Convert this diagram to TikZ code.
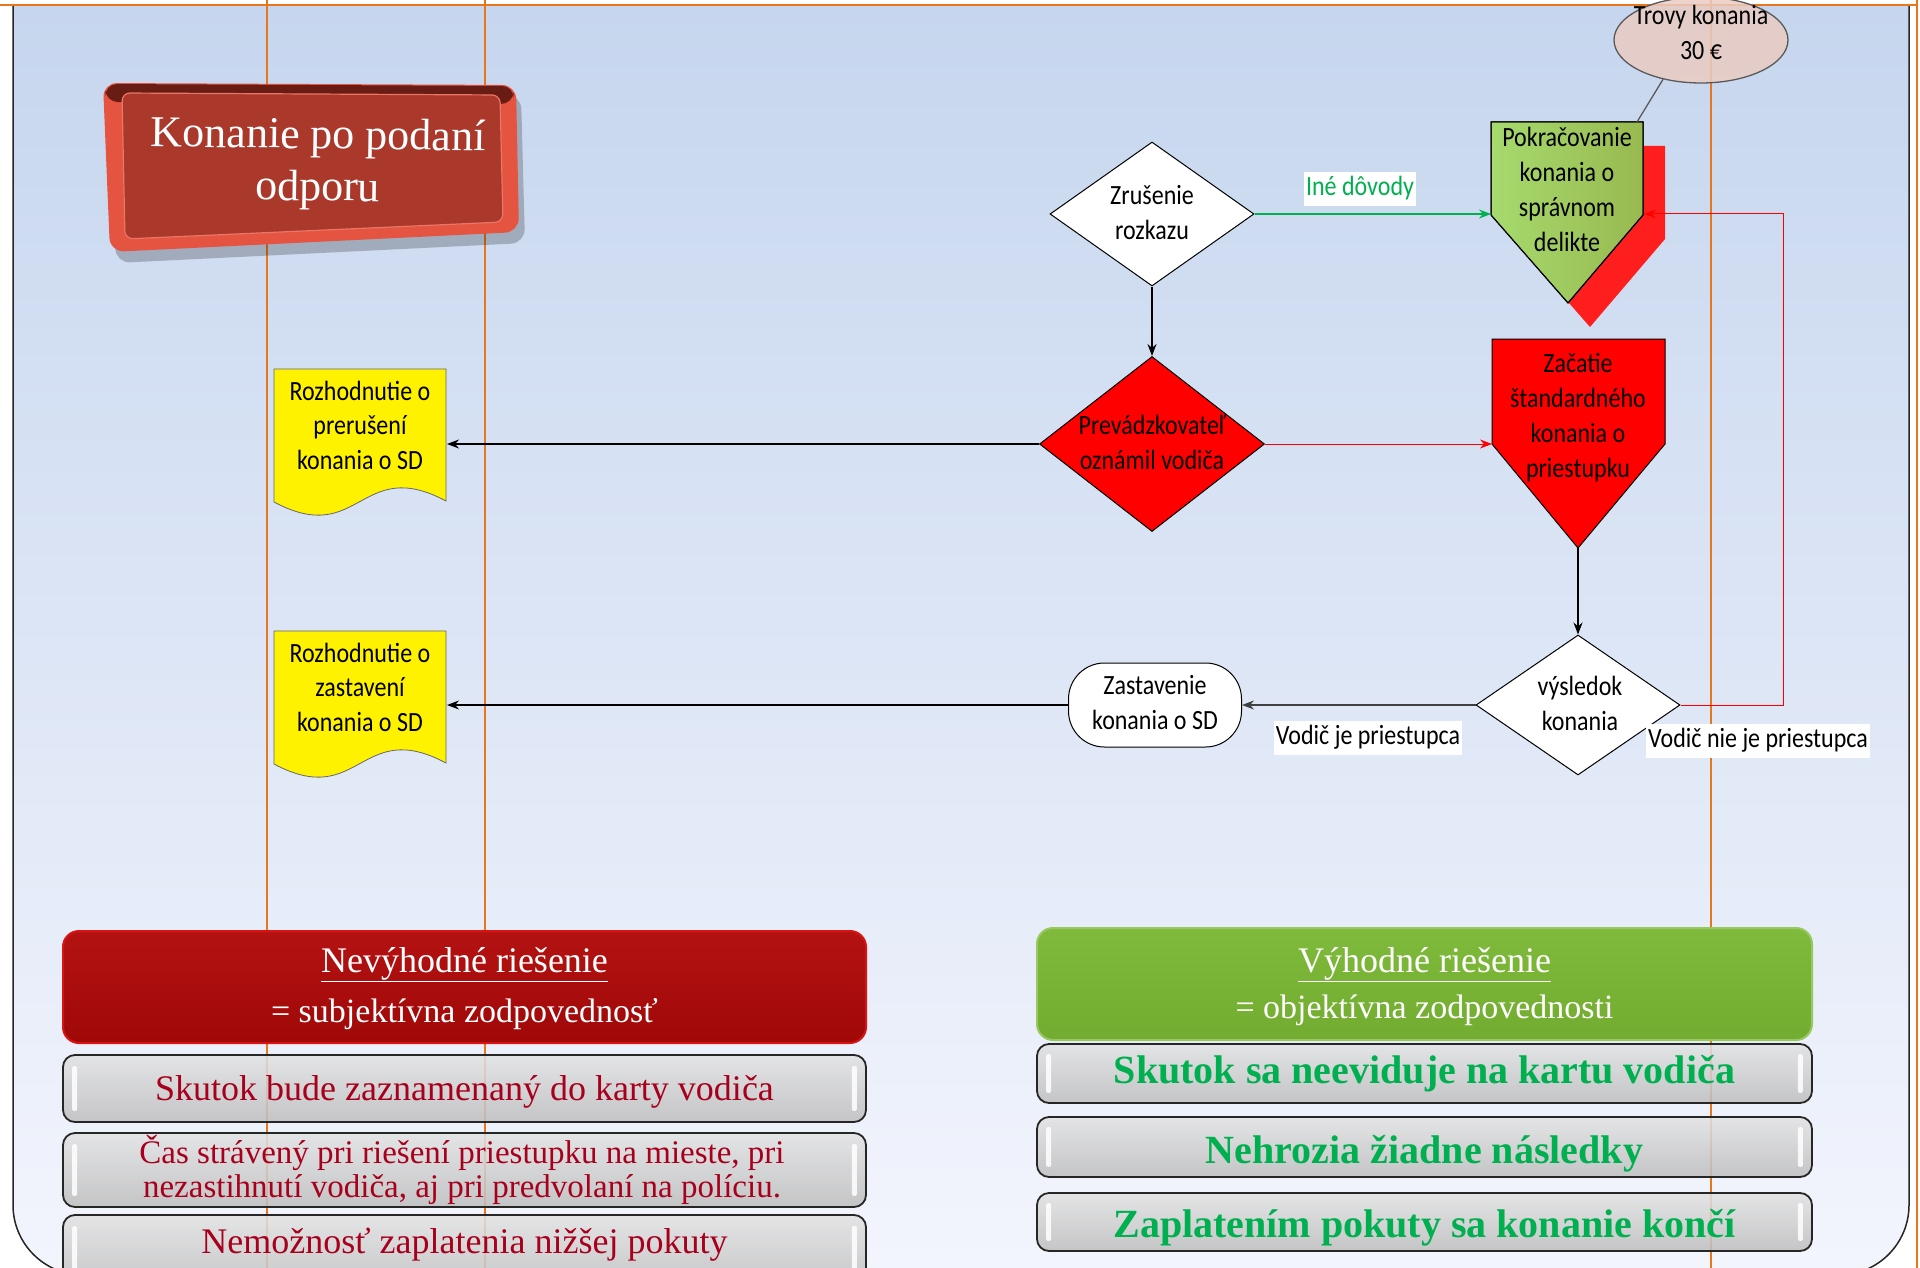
\documentclass[tikz,border=0pt]{standalone}
\usepackage{fontspec}
\usepackage{graphicx}
\setmainfont{Liberation Serif}
\newfontfamily\calib{Carlito}
\usetikzlibrary{shapes.geometric,arrows.meta,calc}
\definecolor{bgtop}{RGB}{198,214,238}
\definecolor{bgbot}{RGB}{243,245,253}
\definecolor{orng}{RGB}{232,118,28}
\definecolor{ttface}{RGB}{170,56,43}
\definecolor{ttrim}{RGB}{228,84,64}
\definecolor{ttdark}{RGB}{104,28,20}
\definecolor{nevface}{RGB}{160,8,8}
\definecolor{nevtop}{RGB}{180,18,18}
\definecolor{nevrim}{RGB}{215,20,20}
\definecolor{vyface}{RGB}{114,172,48}
\definecolor{vytop}{RGB}{128,186,60}
\definecolor{txtred}{RGB}{168,0,28}
\definecolor{txtgreen}{RGB}{0,176,80}
\definecolor{gtop}{RGB}{226,226,226}
\definecolor{gbot}{RGB}{190,190,190}
\definecolor{pinkel}{RGB}{234,204,194}
\definecolor{pokleft}{RGB}{166,218,110}
\definecolor{pokright}{RGB}{152,185,80}
\definecolor{shadred}{RGB}{255,30,30}
\newcommand\vtx[1]{\scalebox{1}[1.16]{\begin{tabular}{@{}c@{}}#1\end{tabular}}}
\begin{document}
\begin{tikzpicture}[x=1pt,y=-1pt,
  flow/.style={font=\calib\fontsize{24}{30}\selectfont, inner sep=0pt},
  conn/.style={line width=1.3pt, -{Stealth[length=12pt,width=9pt]}},
  lbl/.style={font=\calib\fontsize{24}{30}\selectfont, fill=white, inner xsep=2pt, inner ysep=0pt},
  dec/.style={diamond, draw=black, line width=1pt, inner sep=0pt},
  gbox/.style={draw=black!85, line width=1.8pt, rounded corners=12pt, top color=gtop, bottom color=gbot, fill opacity=.86, draw opacity=1, minimum width=803pt, inner sep=0pt},
  hbox/.style={gbox, minimum width=775pt},
  gloss/.style={fill=white, opacity=.85, rounded corners=2pt},
  serif/.style={font=\fontsize{36}{40}\selectfont, anchor=base, inner sep=0pt},
  boldg/.style={font=\bfseries\fontsize{40}{44}\selectfont, anchor=base, inner sep=0pt, text=txtgreen},
]
\useasboundingbox (0,0) rectangle (1920,1268);
\fill[white] (0,0) rectangle (1920,1268);
% background and frame
\begin{scope}
  \clip (0,5) rectangle (1920,1268);
  \begin{scope}
    \clip[rounded corners=70pt] (13,-200) rectangle (1909,1275);
    \shade[top color=bgtop, bottom color=bgbot] (0,5) rectangle (1920,1268);
  \end{scope}
  \draw[black!85, line width=1.5pt, rounded corners=70pt] (13,-200) rectangle (1909,1275);
\end{scope}
% orange guide lines
\draw[orng, line width=2pt] (0,5) -- (1917,5) (267,0) -- (267,1268) (485,0) -- (485,1268)
  (1711,0) -- (1711,1268) (1917,0) -- (1917,1268);

% title box
\fill[black, opacity=.22, rounded corners=14pt] (108,93) -- (521,95) -- (525,243) -- (116,263) -- cycle;
\fill[ttrim, rounded corners=14pt] (103,83) -- (516,85) -- (519,232) -- (110,252) -- cycle;
\fill[ttdark, rounded corners=12pt] (105,84) -- (514,86) -- (513,104) -- (106,102) -- cycle;
\fill[ttface, rounded corners=8pt] (122,93) -- (500,95) -- (503,222) -- (125,239) -- cycle;
\draw[ttrim!80!white, line width=1.2pt, rounded corners=8pt] (122,93) -- (500,95) -- (503,222) -- (125,239) -- cycle;
\node[font=\fontsize{44}{52}\selectfont, text=white, align=center, inner sep=0pt, rotate=-0.8] (title) at (318,164) {Konanie po podaní\\odporu};

% flowchart shapes
\node[ellipse, draw=black!65, line width=1.3pt, fill=pinkel, fill opacity=.85, draw opacity=1, minimum width=174pt, minimum height=86pt, inner sep=0pt] (trovy) at (1701,40) {};
\node[flow] (trovyt) at (1701,35.4) {\vtx{Trovy konania\\30 €}};

\fill[shadred] (1513,146) -- (1665,146) -- (1665,239) -- (1590,327) -- (1513,239) -- cycle;
\shade[left color=pokleft, right color=pokright, draw=black, line width=1pt] (1491,122) -- (1643,122) -- (1643,215) -- (1568,303) -- (1491,215) -- cycle;
\draw[black, line width=1pt] (1491,122) -- (1643,122) -- (1643,215) -- (1568,303) -- (1491,215) -- cycle;
\node[flow] (pok) at (1567,192) {\vtx{Pokračovanie\\konania o\\správnom\\delikte}};
\coordinate (pokL) at (1491,214);
\coordinate (pokR) at (1644,214);
\coordinate (pokT) at (1637,122);

\node[dec, fill=white, minimum width=204pt, minimum height=144pt] (zrus) at (1152,214) {};
\node[flow] (zrust) at (1152,215.4) {\vtx{Zrušenie\\rozkazu}};

\node[dec, fill=red, minimum width=225pt, minimum height=175pt] (prev) at (1152,444) {};
\node[flow] (prevt) at (1152,445.4) {\vtx{Prevádzkovateľ\\oznámil vodiča}};

\draw[fill=red, draw=black, line width=1pt] (1492,339) -- (1665,339) -- (1665,444) -- (1578,548) -- (1492,444) -- cycle;
\node[flow] (zac) at (1578,418) {\vtx{Začatie\\štandardného\\konania o\\priestupku}};
\coordinate (zacL) at (1492,444);
\coordinate (zacB) at (1578,548);

\node[dec, fill=white, minimum width=204pt, minimum height=140pt] (vys) at (1578,705) {};
\node[flow] (vyst) at (1580,706) {\vtx{výsledok\\konania}};

\node[draw, fill=white, line width=1pt, rounded corners=36pt, minimum width=173pt, minimum height=84pt, flow] (zast) at (1155,705) {\vtx{Zastavenie\\konania o SD}};

\draw[fill=yellow, draw=black!60, line width=0.8pt] (274,369) -- (446,369) -- (446,501) .. controls (360,455) and (360,548) .. (274,502) -- cycle;
\node[flow] (doc1) at (360,428) {\vtx{Rozhodnutie o\\prerušení\\konania o SD}};
\coordinate (doc1R) at (447,444);
\draw[fill=yellow, draw=black!60, line width=0.8pt] (274,631) -- (446,631) -- (446,763) .. controls (360,717) and (360,810) .. (274,764) -- cycle;
\node[flow] (doc2) at (360,690) {\vtx{Rozhodnutie o\\zastavení\\konania o SD}};
\coordinate (doc2R) at (447,705);

% connectors
\draw[conn, txtgreen] (zrus.east) -- (pokL);
\draw[conn] (zrus.south) -- (prev.north);
\draw[conn] (prev.west) -- (doc1R);
\draw[conn, red, line width=1pt] (prev.east) -- (zacL);
\draw[conn] (zacB) -- (vys.north);
\draw[conn, black!75] (vys.west) -- (zast.east);
\draw[conn] (zast.west) -- (doc2R);
\draw[conn, red, line width=1pt] (vys.east) -- ++(103,0) |- (pokR);
\draw[black!65, line width=1.3pt] (trovy.226) -- (pokT);

% labels
\node[lbl, text=txtgreen] (ine) at (1360,189) {\vtx{Iné dôvody}};
\node[lbl] (vjp) at (1368,738) {\vtx{Vodič je priestupca}};
\node[lbl] (vnjp) at (1758,741) {\vtx{Vodič nie je priestupca}};

% bottom left
\node[draw=nevrim, line width=2pt, rounded corners=16pt, top color=nevtop, bottom color=nevface, minimum width=803pt, minimum height=112pt, inner sep=0pt] (nev) at (464.5,987) {};
\node[serif, text=white] (nevt1) at (464.5,972) {\underline{Nevýhodné riešenie}};
\node[serif, text=white, font=\fontsize{34}{40}\selectfont] (nevt2) at (464.5,1022) {= subjektívna zodpovednosť};

\node[gbox, minimum height=67pt] (g1) at (464.5,1088.5) {};
\node[gbox, minimum height=74pt] (g2) at (464.5,1170) {};
\node[gbox, minimum height=75pt] (g3) at (464.5,1252.5) {};
\foreach \b in {g1,g2,g3}{
  \fill[gloss] ($(\b.north west)+(10,12)$) rectangle ($(\b.south west)+(15,-12)$);
  \fill[gloss] ($(\b.north east)+(-15,12)$) rectangle ($(\b.south east)+(-10,-12)$);
}
\node[serif, text=txtred] (g1t) at (464.5,1100) {Skutok bude zaznamenaný do karty vodiča};
\node[serif, text=txtred, font=\fontsize{33}{36}\selectfont] (g2ta) at (462,1163) {Čas strávený pri riešení priestupku na mieste, pri};
\node[serif, text=txtred, font=\fontsize{33}{36}\selectfont] (g2tb) at (462,1197) {nezastihnutí vodiča, aj pri predvolaní na políciu.};
\node[serif, text=txtred] (g3t) at (464.5,1253) {Nemožnosť zaplatenia nižšej pokuty};

% bottom right
\node[draw=vytop!80!white, line width=2pt, rounded corners=16pt, top color=vytop, bottom color=vyface, minimum width=775pt, minimum height=112pt, inner sep=0pt] (vyh) at (1424.5,984) {};
\node[serif, text=white] (vyht1) at (1424.5,972) {\underline{Výhodné riešenie}};
\node[serif, text=white, font=\fontsize{34}{40}\selectfont] (vyht2) at (1424.5,1018) {= objektívna zodpovednosti};

\node[hbox, minimum height=59pt] (h1) at (1424.5,1073.5) {};
\node[hbox, minimum height=60pt] (h2) at (1424.5,1147) {};
\node[hbox, minimum height=58pt] (h3) at (1424.5,1222) {};
\foreach \b in {h1,h2,h3}{
  \fill[gloss] ($(\b.north west)+(10,11)$) rectangle ($(\b.south west)+(15,-11)$);
  \fill[gloss] ($(\b.north east)+(-15,11)$) rectangle ($(\b.south east)+(-10,-11)$);
}
\node[boldg] (h1t) at (1424.5,1083) {Skutok sa neeviduje na kartu vodiča};
\node[boldg] (h2t) at (1424.5,1163) {Nehrozia žiadne následky};
\node[boldg] (h3t) at (1424.5,1237) {Zaplatením pokuty sa konanie končí};
\end{tikzpicture}
\end{document}
